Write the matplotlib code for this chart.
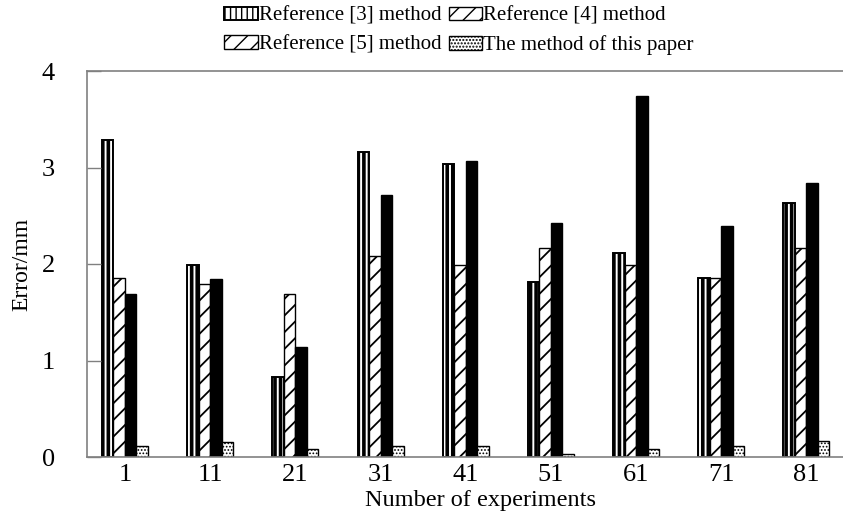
import matplotlib
matplotlib.use("Agg")
import matplotlib.pyplot as plt
import numpy as np
from matplotlib.patches import Patch

categories = ["1", "11", "21", "31", "41", "51", "61", "71", "81"]
ref3 = [3.28, 1.99, 0.83, 3.16, 3.04, 1.81, 2.11, 1.86, 2.63]
ref4 = [1.86, 1.79, 1.69, 2.08, 1.99, 2.17, 1.99, 1.86, 2.17]
ref5 = [1.69, 1.84, 1.14, 2.72, 3.07, 2.42, 3.74, 2.39, 2.84]
ours = [0.11, 0.16, 0.08, 0.11, 0.11, 0.03, 0.08, 0.11, 0.17]
labels = ["Reference [3] method", "Reference [4] method",
          "Reference [5] method", "The method of this paper"]

plt.rcParams['font.family'] = ['Liberation Serif', 'DejaVu Serif']

fig = plt.figure(figsize=(8.43, 5.14), dpi=100)
ax = fig.add_axes([87/843, 57/514, 756/843, 386/514])

x = np.arange(len(categories))
w = 0.135

def set_hlw(bars, lw):
    for b in bars:
        if hasattr(b, "set_hatch_linewidth"):
            b.set_hatch_linewidth(lw)

with plt.rc_context({'hatch.linewidth': 2.6}):
    b1 = ax.bar(x - 1.5*w, ref3, w, facecolor='white', edgecolor='black',
                hatch='|||', linewidth=1.4)
set_hlw(b1, 2.6)
with plt.rc_context({'hatch.linewidth': 1.3}):
    b2 = ax.bar(x - 0.5*w, ref4, w, facecolor='white', edgecolor='black',
                hatch='//', linewidth=1.0)
set_hlw(b2, 1.3)
b3 = ax.bar(x + 0.5*w, ref5, w, facecolor='black', edgecolor='black',
            linewidth=1.0)
with plt.rc_context({'hatch.linewidth': 0.8}):
    b4 = ax.bar(x + 1.5*w, ours, w, facecolor='white', edgecolor='black',
                hatch='.....', linewidth=1.0)
set_hlw(b4, 0.8)

with plt.rc_context({'hatch.linewidth': 1.3}):
    proxy5 = Patch(facecolor='white', edgecolor='black', hatch='//', linewidth=1.0)
if hasattr(proxy5, "set_hatch_linewidth"):
    proxy5.set_hatch_linewidth(1.3)

ax.set_xlim(-0.446, 8.43)
ax.set_ylim(0, 4)
ax.set_yticks([0, 1, 2, 3, 4])
ax.set_xticks(x)
ax.set_xticklabels(categories)

gray = '#808080'
for side in ['left', 'top', 'bottom']:
    ax.spines[side].set_color(gray)
    ax.spines[side].set_linewidth(1.2)
ax.spines['right'].set_visible(False)

ax.tick_params(axis='y', direction='in', length=10, width=1.0, color=gray,
               labelsize=19, pad=23)
ax.tick_params(axis='x', length=0, labelsize=19, pad=5)

ax.set_xlabel("Number of experiments", fontsize=17.5, labelpad=0)
ax.xaxis.set_label_coords(0.52, -0.086)
ax.xaxis.label.set_va('top')
ax.set_ylabel("Error/mm", fontsize=17)
ax.yaxis.set_label_coords(-0.072, 0.5)

# column-major ordering so rows read: [3] [4] / [5] ours
leg = fig.legend([b1, proxy5, b2, b4],
                 [labels[0], labels[2], labels[1], labels[3]],
                 ncol=2, loc='upper center',
                 bbox_to_anchor=(459/843, 1 - 7/514), frameon=False,
                 fontsize=15, handlelength=1.6, handleheight=0.6,
                 handletextpad=0.05, columnspacing=0.35, labelspacing=0.45,
                 borderpad=0, borderaxespad=0)

fig.savefig("out.png", dpi=100)
